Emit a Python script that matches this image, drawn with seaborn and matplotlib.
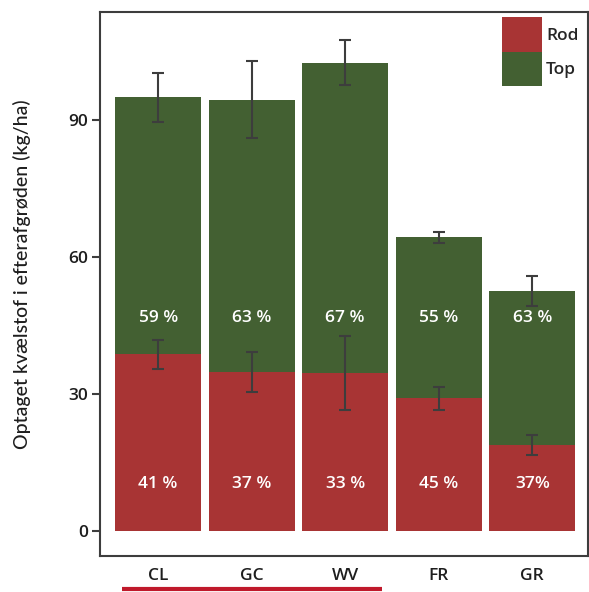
import numpy as np
import pandas as pd
import matplotlib
matplotlib.use("Agg")
import matplotlib.pyplot as plt
from matplotlib.patches import Patch
import seaborn as sns

# data
crops = ["CL", "GC", "WV", "FR", "GR"]
rod = [38.6, 34.7, 34.6, 29.0, 18.7]
total = [94.9, 94.4, 102.5, 64.2, 52.5]
rod_err = [3.25, 4.4, 8.1, 2.5, 2.2]
top_err = [5.35, 8.35, 4.95, 1.2, 3.3]
top_pct = ["59 %", "63 %", "67 %", "55 %", "63 %"]
rod_pct = ["41 %", "37 %", "33 %", "45 %", "37%"]

red = "#a83434"
green = "#436032"
dark = "#3d3d3d"

sns.set_style("white")
plt.rcParams["font.family"] = ["Open Sans", "DejaVu Sans"]
plt.rcParams["font.weight"] = "semibold"

df = pd.DataFrame({"crop": crops, "rod": rod, "total": total})

fig = plt.figure(figsize=(5.89, 5.92), dpi=100)
ax = fig.add_axes([0.170, 0.061, 0.829, 0.919])

sns.barplot(data=df, x="crop", y="total", color=green, width=0.92,
            saturation=1, linewidth=0, ax=ax)
sns.barplot(data=df, x="crop", y="rod", color=red, width=0.92,
            saturation=1, linewidth=0, ax=ax)

xpos = np.arange(len(crops))
ax.errorbar(xpos, total, yerr=top_err, fmt="none", ecolor=dark,
            elinewidth=1.5, capsize=4, capthick=1.5)
ax.errorbar(xpos, rod, yerr=rod_err, fmt="none", ecolor=dark,
            elinewidth=1.5, capsize=4, capthick=1.5)

for x, tp, rp in zip(xpos, top_pct, rod_pct):
    ax.text(x, 46.6, tp, color="white", ha="center", va="center", fontsize=12.5)
    ax.text(x, 10.3, rp, color="white", ha="center", va="center", fontsize=12.5)

ax.set_xlim(-0.62, 4.6)
ax.set_ylim(-5.5, 113.6)
ax.set_yticks([0, 30, 60, 90])
ax.set_xlabel("")
ax.set_ylabel("Optaget kvælstof i efterafgrøden (kg/ha)", fontsize=14,
              family=["Lato", "DejaVu Sans"], fontweight="medium",
              color="#1e1e1e")
ax.yaxis.set_label_coords(-0.141, 0.517)
ax.tick_params(axis="y", left=True, length=6, width=1.5, color=dark,
               labelsize=12.5, labelcolor="#1e1e1e", pad=3)
ax.tick_params(axis="x", bottom=False, labelsize=12.5, labelcolor="#1e1e1e",
               pad=5)
for s in ax.spines.values():
    s.set_color(dark)
    s.set_linewidth(1.5)

# red line grouping the first three crops
ax.plot([-0.39, 2.39], [-0.06, -0.06], color="#c0192b", lw=3,
        transform=ax.get_xaxis_transform(), clip_on=False,
        solid_capstyle="butt")

handles = [Patch(facecolor=red, edgecolor="none", label="Rod"),
           Patch(facecolor=green, edgecolor="none", label="Top")]
ax.legend(handles=handles, loc="upper right", frameon=False, fontsize=12.5,
          handlelength=2.3, handleheight=2.7, labelspacing=0,
          handletextpad=0.25, borderaxespad=0.0, borderpad=0.3,
          bbox_to_anchor=(0.99, 1.0))

fig.savefig("out.png", dpi=100)
